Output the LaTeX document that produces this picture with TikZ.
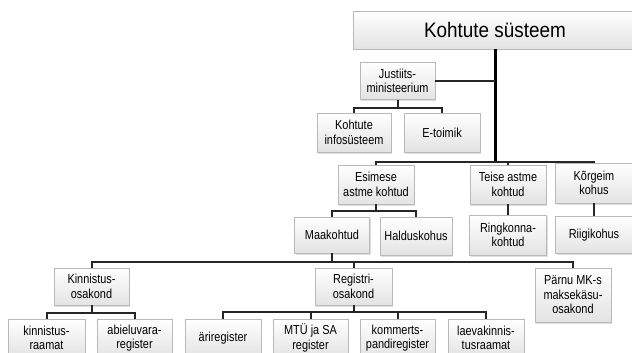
\documentclass[tikz,border=0pt]{standalone}
\usepackage{fontspec}
\setmainfont[FakeStretch=0.84]{Liberation Sans}
\newfontfamily\titlefont[FakeStretch=0.9]{Liberation Sans}
\usepackage{tikz}
\usetikzlibrary{positioning, calc, shadows}

\tikzset{
  box/.style={draw=gray!55, top color=white, bottom color=gray!22,
    minimum width=76pt, minimum height=38pt, inner sep=1pt, align=center,
    font=\fontsize{13}{14.5}\selectfont,
    drop shadow={opacity=0.25, shadow xshift=1pt, shadow yshift=-1.5pt}},
  conn/.style={line width=2pt, draw=black!85},
  trunk/.style={line width=3pt, draw=black}
}

\begin{document}
\begin{tikzpicture}[x=1pt, y=-1pt]
    \useasboundingbox (0,0) rectangle (632,353);

    % --- Top ---
    \node[box, minimum width=284pt, font=\titlefont\fontsize{21}{24}\selectfont] (title) at (495,30) {Kohtute süsteem};
    \coordinate (hub) at (495,162);

    % --- Ministry branch ---
    \node[box, minimum width=75pt, minimum height=37pt] (just) at (397.5,81) {Justiits-\\ministeerium};
    \node[box, minimum width=74pt, minimum height=39pt] (info) at (354,132.5) {Kohtute\\infosüsteem};
    \node[box, minimum height=39pt] (etoim) at (442,132.5) {E-toimik};

    % --- Court levels ---
    \node[box, minimum height=39pt] (esim) at (376,184.5) {Esimese\\astme kohtud};
    \node[box, minimum height=39pt] (teise) at (508,184.5) {Teise astme\\kohtud};
    \node[box, minimum width=77pt, minimum height=40pt] (korg) at (594,183) {Kõrgeim\\kohus};

    \node[box, minimum width=75pt, minimum height=36pt] (maak) at (332,235) {Maakohtud};
    \node[box, minimum width=72pt] (hald) at (416,236) {Halduskohus};
    \node[box, minimum width=77pt, minimum height=40pt] (ringk) at (508,235) {Ringkonna-\\kohtud};
    \node[box, minimum width=77pt, minimum height=37pt] (riigi) at (594,235) {Riigikohus};

    % --- Departments ---
    \node[box, minimum width=75pt, minimum height=37pt] (kinn) at (91.5,286.5) {Kinnistus-\\osakond};
    \node[box, minimum width=77pt, minimum height=37pt] (regi) at (353.5,286.5) {Registri-\\osakond};
    \node[box, minimum width=76pt, minimum height=54pt] (parnu) at (573,295) {Pärnu MK-s\\maksekäsu-\\osakond};

    % --- Registers ---
    \node[box, minimum width=77pt] (kraam) at (46.5,338) {kinnistus-\\raamat};
    \node[box, minimum width=75pt] (abiel) at (134.5,338) {abieluvara-\\register};
    \node[box] (ari) at (223,338) {äriregister};
    \node[box, minimum width=75pt] (mtu) at (310.5,338) {MTÜ ja SA\\register};
    \node[box, minimum width=75pt] (komm) at (397.5,338) {kommerts-\\pandiregister};
    \node[box] (laev) at (486,338) {laevakinnis-\\tusraamat};

    % --- Connectors ---
    \draw[trunk] (title.south) -- (hub);
    \draw[conn] (just.east) -- (just.east -| title.south);
    \draw[conn] (just.south) -- ++(0,8.5) -| (info.north);
    \draw[conn] (just.south) -- ++(0,8.5) -| (etoim.north);

    \draw[conn] (hub) -| (esim.north);
    \draw[conn] (hub) -| (teise.north);
    \draw[conn] (hub) -| (korg.north);

    \draw[conn] (esim.south) -- ++(0,7) -| (maak.north);
    \draw[conn] (esim.south) -- ++(0,7) -| (hald.north);
    \draw[conn] (teise.south) -- (ringk.north);
    \draw[conn] (korg.south) -- (riigi.north);

    \draw[conn] (maak.south) -- ++(0,9) -| (kinn.north);
    \draw[conn] (maak.south) -- ++(0,9) -| (regi.north);
    \draw[conn] (maak.south) -- ++(0,9) -| (parnu.north);

    \draw[conn] (kinn.south) -- ++(0,7.5) -| (kraam.north);
    \draw[conn] (kinn.south) -- ++(0,7.5) -| (abiel.north);
    \foreach \k in {ari, mtu, komm, laev}
      \draw[conn] (regi.south) -- ++(0,7) -| (\k.north);

\end{tikzpicture}
\end{document}
